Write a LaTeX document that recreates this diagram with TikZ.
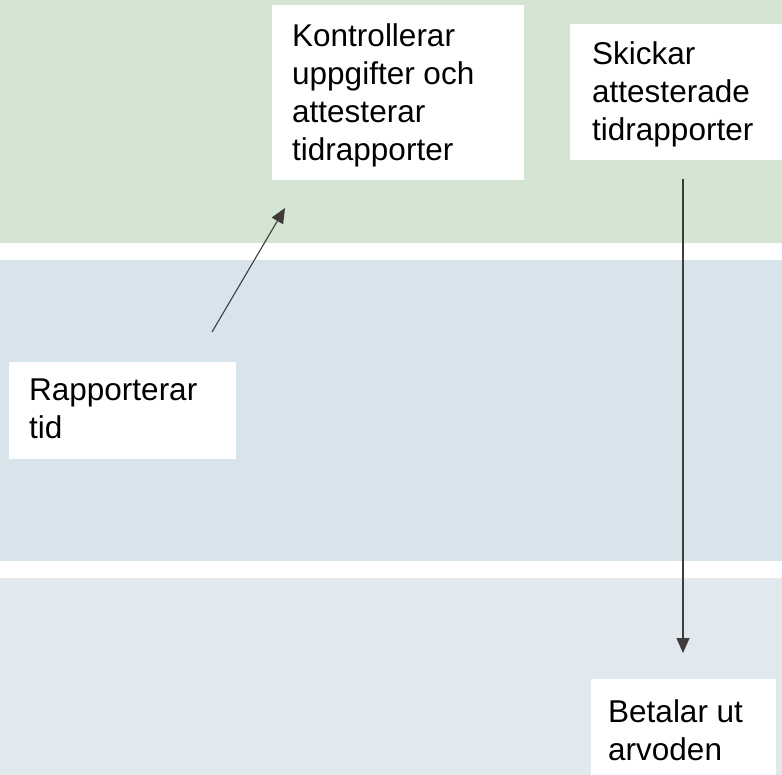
\documentclass[tikz,border=0pt]{standalone}
\usepackage{fontspec}
\setmainfont{Liberation Sans}
\usetikzlibrary{arrows.meta,calc}
\definecolor{bandgreen}{RGB}{212,229,212}
\definecolor{bandblue}{RGB}{216,228,236}
\definecolor{bandlight}{RGB}{225,233,239}
\definecolor{arrowgray}{RGB}{64,60,60}
\begin{document}
\begin{tikzpicture}[x=1pt,y=-1pt,
  band/.style={draw=none,anchor=north west,inner sep=0pt,minimum width=782pt},
  card/.style={fill=white,draw=none,anchor=north west,inner sep=0pt},
  lbl/.style={anchor=north west,inner sep=0pt,align=left,font=\fontsize{31.5}{38}\selectfont},
  flow/.style={draw=arrowgray,line width=1.1pt,-{Triangle[length=15pt,width=13pt]}}]
\useasboundingbox (0,0) rectangle (782,775);
% bands
\node[band,fill=bandgreen,minimum height=243pt] (b1) at (0,0) {};
\node[band,fill=bandblue,minimum height=301pt] (b2) at (0,260) {};
\node[band,fill=bandlight,minimum height=197pt] (b3) at (0,578) {};
% cards
\node[card,minimum width=252pt,minimum height=175pt] (k) at (272,5) {};
\node[card,minimum width=212pt,minimum height=136pt] (s) at (570,24) {};
\node[card,minimum width=227pt,minimum height=97pt] (r) at (9,362) {};
\node[card,minimum width=185pt,minimum height=96pt] (p) at (591,679) {};
% texts
\node[lbl] (kt) at ($(k.north west)+(20,18)$) {Kontrollerar\\uppgifter och\\attesterar\\tidrapporter};
\node[lbl] (st) at ($(s.north west)+(22,17)$) {Skickar\\attesterade\\tidrapporter};
\node[lbl] (rt) at ($(r.north west)+(20,17)$) {Rapporterar\\tid};
\node[lbl] (pt) at ($(p.north west)+(17,20)$) {Betalar ut\\arvoden};
% connectors
\coordinate (a1s) at (212,332);
\coordinate (a1e) at (285,208);
\coordinate (a2s) at (683,179);
\coordinate (a2e) at (683,653);
\draw[flow] (a1s) -- (a1e);
\draw[flow] (a2s) -- (a2e);
\end{tikzpicture}
\end{document}
